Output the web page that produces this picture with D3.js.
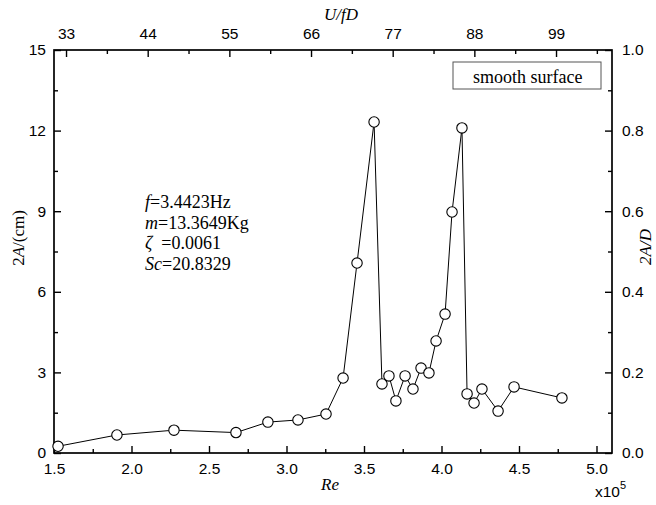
<!DOCTYPE html>
<html>
<head>
<meta charset="utf-8">
<script src="https://cdn.jsdelivr.net/npm/d3@7"></script>
<style>
  body { margin: 0; background: #fff; }
  .tick text { font-family: "Liberation Sans", Arial, sans-serif; font-size: 15.5px; fill: #000; }
  .serif { font-family: "Liberation Serif", "Times New Roman", serif; white-space: pre; }
</style>
</head>
<body>
<div id="chart"></div>
<script>
// Re (x10^5) and peak-to-peak amplitude 2A (cm)
var reynolds = [1.526, 1.906, 2.274, 2.674, 2.88, 3.074, 3.255, 3.365, 3.455, 3.565,
                3.616, 3.661, 3.706, 3.765, 3.816, 3.868, 3.919, 3.965, 4.023, 4.068,
                4.132, 4.165, 4.21, 4.261, 4.365, 4.468, 4.777];
var amplitude = [0.25, 0.67, 0.85, 0.76, 1.15, 1.23, 1.45, 2.79, 7.07, 12.32,
                 2.57, 2.87, 1.94, 2.87, 2.38, 3.16, 2.98, 4.17, 5.17, 8.97,
                 12.10, 2.20, 1.86, 2.38, 1.56, 2.46, 2.05];

var xTicks = [1.5, 2.0, 2.5, 3.0, 3.5, 4.0, 4.5, 5.0];
var yTicks = [0, 3, 6, 9, 12, 15];
var yRightTicks = [0.0, 0.2, 0.4, 0.6, 0.8, 1.0];
var topTicks = [33, 44, 55, 66, 77, 88, 99];

var svgWidth = 656, svgHeight = 505;
var margin = { top: 50, right: 44, bottom: 52, left: 54 };
var width = svgWidth - margin.left - margin.right;
var height = svgHeight - margin.top - margin.bottom;

var svg = d3.select("#chart")
  .append("svg")
  .attr("width", svgWidth)
  .attr("height", svgHeight)
  .append("g")
  .attr("transform", "translate(" + margin.left + "," + margin.top + ")");

var x = d3.scaleLinear().domain([1.5, 5.1]).range([0, width]);
var xTop = d3.scaleLinear().domain([31.38, 106.54]).range([0, width]);
var y = d3.scaleLinear().domain([0, 15]).range([height, 0]);
var yRight = d3.scaleLinear().domain([0, 1]).range([height, 0]);

function minors(scale, step) {
  var d = scale.domain(), out = [];
  var start = Math.ceil(d[0] / step - 1e-9) * step;
  for (var v = start; v <= d[1] + 1e-9; v += step) out.push(+v.toFixed(4));
  return out;
}

function styleAxis(g) {
  g.select(".domain").remove();
  g.selectAll(".tick line").attr("stroke", "#000").attr("stroke-width", 1.4);
}

// major axes
svg.append("g").attr("transform", "translate(0," + height + ")")
  .call(d3.axisBottom(x).tickValues(xTicks).tickSize(-7).tickPadding(10).tickFormat(d3.format(".1f")))
  .call(styleAxis);
svg.append("g")
  .call(d3.axisTop(xTop).tickValues(topTicks).tickSize(-7).tickPadding(11).tickFormat(d3.format("d")))
  .call(styleAxis);
svg.append("g")
  .call(d3.axisLeft(y).tickValues(yTicks).tickSize(-7).tickPadding(8).tickFormat(d3.format("d")))
  .call(styleAxis);
svg.append("g").attr("transform", "translate(" + width + ",0)")
  .call(d3.axisRight(yRight).tickValues(yRightTicks).tickSize(-7).tickPadding(10).tickFormat(d3.format(".1f")))
  .call(styleAxis);

// minor ticks
svg.append("g").attr("transform", "translate(0," + height + ")")
  .call(d3.axisBottom(x).tickValues(minors(x, 0.25).filter(v => xTicks.indexOf(v) < 0)).tickSize(-4).tickFormat(""))
  .call(styleAxis);
svg.append("g")
  .call(d3.axisTop(xTop).tickValues(minors(xTop, 5.5).filter(v => topTicks.indexOf(v) < 0)).tickSize(-4).tickFormat(""))
  .call(styleAxis);
svg.append("g")
  .call(d3.axisLeft(y).tickValues(minors(y, 1.5).filter(v => yTicks.indexOf(v) < 0)).tickSize(-4).tickFormat(""))
  .call(styleAxis);
svg.append("g").attr("transform", "translate(" + width + ",0)")
  .call(d3.axisRight(yRight).tickValues(minors(yRight, 0.1).filter(v => yRightTicks.indexOf(+v.toFixed(1)) < 0)).tickSize(-4).tickFormat(""))
  .call(styleAxis);

// frame
svg.append("rect")
  .attr("width", width).attr("height", height)
  .attr("fill", "none").attr("stroke", "#000").attr("stroke-width", 1.7);

// data line and markers
var points = reynolds.map((r, i) => ({ re: r, a: amplitude[i] }));
svg.append("path")
  .datum(points)
  .attr("fill", "none")
  .attr("stroke", "#000")
  .attr("stroke-width", 1)
  .attr("d", d3.line().x(d => x(d.re)).y(d => y(d.a)));
svg.selectAll(".pt")
  .data(points)
  .enter().append("circle")
  .attr("class", "pt")
  .attr("cx", d => x(d.re))
  .attr("cy", d => y(d.a))
  .attr("r", 5.2)
  .attr("fill", "#fff")
  .attr("stroke", "#000")
  .attr("stroke-width", 1.1);

// legend box
svg.append("rect")
  .attr("x", 399).attr("y", 12).attr("width", 148).attr("height", 27)
  .attr("fill", "#fff").attr("stroke", "#555").attr("stroke-width", 1);
svg.append("text").attr("class", "serif")
  .attr("x", 419).attr("y", 33)
  .style("font-size", "18px")
  .text("smooth surface");

// parameter notes
var notes = svg.append("text").attr("class", "serif").style("font-size", "18px");
function note(dy, it, rest) {
  var t = notes.append("tspan").attr("x", 91).attr("y", dy);
  t.append("tspan").style("font-style", "italic").text(it);
  t.append("tspan").text(rest);
}
note(158, "f", "=3.4423Hz");
note(179, "m", "=13.3649Kg");
note(199, "\u03B6", "  =0.0061");
note(220, "Sc", "=20.8329");

// axis titles
var root = d3.select("#chart svg");
var yl = root.append("text").attr("class", "serif")
  .attr("transform", "translate(24,238) rotate(-90)")
  .attr("text-anchor", "middle")
  .style("font-size", "17px");
yl.append("tspan").text("2");
yl.append("tspan").style("font-style", "italic").text("A");
yl.append("tspan").text("/(cm)");

root.append("text").attr("class", "serif")
  .attr("transform", "translate(651,247) rotate(-90)")
  .attr("text-anchor", "middle")
  .style("font-size", "17px").style("font-style", "italic")
  .text("2A/D");

root.append("text").attr("class", "serif")
  .attr("x", 341).attr("y", 20).attr("text-anchor", "middle")
  .style("font-size", "17px").style("font-style", "italic")
  .text("U/fD");

root.append("text").attr("class", "serif")
  .attr("x", 330).attr("y", 490).attr("text-anchor", "middle")
  .style("font-size", "17px").style("font-style", "italic")
  .text("Re");

var mult = root.append("text")
  .attr("x", 595).attr("y", 497)
  .style("font-family", "Liberation Sans, Arial, sans-serif")
  .style("font-size", "15.5px");
mult.append("tspan").text("x10");
mult.append("tspan").attr("dy", -8).style("font-size", "11px").text("5");
</script>
</body>
</html>
